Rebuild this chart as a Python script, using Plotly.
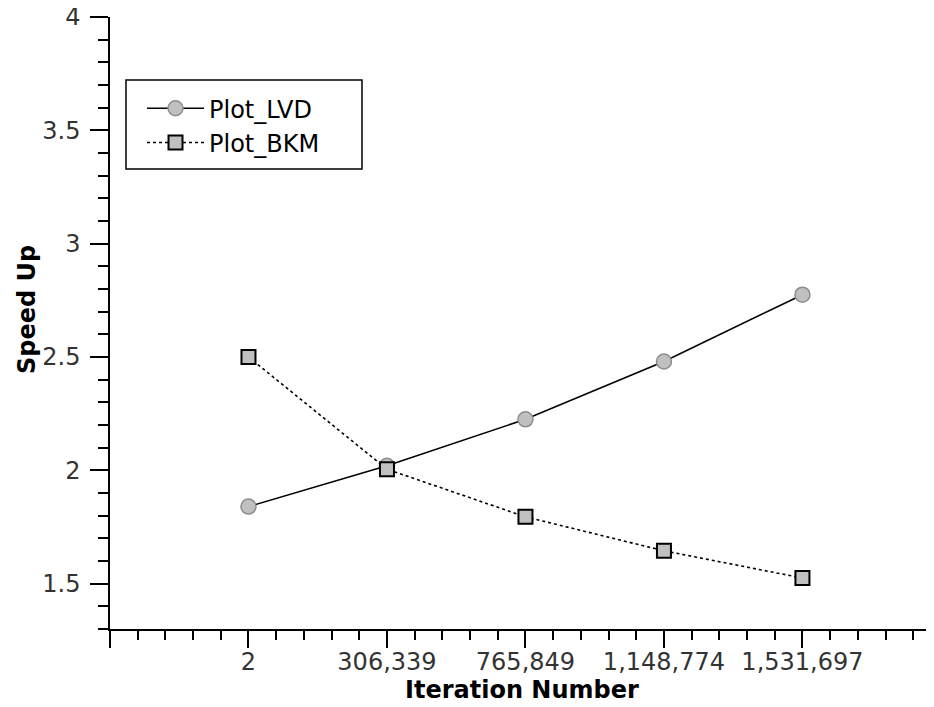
import plotly.graph_objects as go

iterations = ["2", "306,339", "765,849", "1,148,774", "1,531,697"]
positions = [1, 2, 3, 4, 5]
lvd = [1.84, 2.02, 2.225, 2.48, 2.775]
bkm = [2.50, 2.005, 1.795, 1.645, 1.525]

font_family = "DejaVu Sans"

fig = go.Figure()
fig.add_trace(go.Scatter(
    x=positions, y=lvd, name="Plot_LVD", mode="lines+markers",
    line=dict(color="black", width=1.6, dash="solid"),
    marker=dict(symbol="circle", size=15, color="#c0c0c0",
                line=dict(color="#8c8c8c", width=1.5)),
))
fig.add_trace(go.Scatter(
    x=positions, y=bkm, name="Plot_BKM", mode="lines+markers",
    line=dict(color="black", width=1.6, dash="dot"),
    marker=dict(symbol="square", size=14, color="#c0c0c0",
                line=dict(color="black", width=2)),
))

# page body has an 8px default margin; compensate so the plot lands where the reference has it
fig.update_layout(
    width=934, height=707,
    margin=dict(l=102, r=8, t=9, b=86),
    paper_bgcolor="white", plot_bgcolor="white",
    font=dict(family=font_family, size=24, color="#333333"),
    showlegend=True,
    legend=dict(
        x=(142 - 110) / 824, y=0.887, xanchor="left", yanchor="top",
        borderwidth=0, bgcolor="rgba(0,0,0,0)",
        font=dict(family=font_family, size=24, color="black"),
        itemwidth=57, tracegroupgap=0,
    ),
    shapes=[dict(type="rect", xref="paper", yref="paper",
                 x0=0.0194, x1=0.3058, y0=0.7516, y1=0.897,
                 line=dict(color="black", width=1.5), layer="below")],
    annotations=[
        dict(text="<b>Iteration Number</b>", xref="paper", yref="paper",
             x=0.5, y=-(690 - 629) / 612, xanchor="center", yanchor="middle",
             showarrow=False, font=dict(size=24, color="black")),
        dict(text="<b>Speed Up</b>", xref="paper", yref="paper",
             x=-(110 - 27) / 824, y=(629 - 310) / 612,
             xanchor="center", yanchor="middle", textangle=-90,
             showarrow=False, font=dict(size=24, color="black")),
    ],
)
fig.update_xaxes(
    range=[0, 5.95], automargin=False,
    tickmode="array", tickvals=[0] + positions, ticktext=[""] + iterations,
    showgrid=False, zeroline=False,
    showline=True, linecolor="black", linewidth=1.5,
    ticks="outside", ticklen=17, tickwidth=1.5, tickcolor="black",
    ticklabelstandoff=-7, ticklabeloverflow="allow",
    minor=dict(ticks="outside", ticklen=9, tickwidth=1.5, tickcolor="black",
               dtick=0.2, tick0=0, showgrid=False),
    tickfont=dict(size=24, color="#333333"),
)
fig.update_yaxes(
    range=[1.3, 4], automargin=False,
    tickmode="array", tickvals=[1.5, 2, 2.5, 3, 3.5, 4],
    ticktext=["1.5", "2", "2.5", "3", "3.5", "4"],
    showgrid=False, zeroline=False,
    showline=True, linecolor="black", linewidth=1.5,
    ticks="outside", ticklen=18, tickwidth=1.5, tickcolor="black",
    ticklabelstandoff=5, ticklabeloverflow="allow",
    minor=dict(ticks="outside", ticklen=10, tickwidth=1.5, tickcolor="black",
               dtick=0.1, tick0=0, showgrid=False),
    tickfont=dict(size=24, color="#333333"),
)

fig.write_html("out.html")
